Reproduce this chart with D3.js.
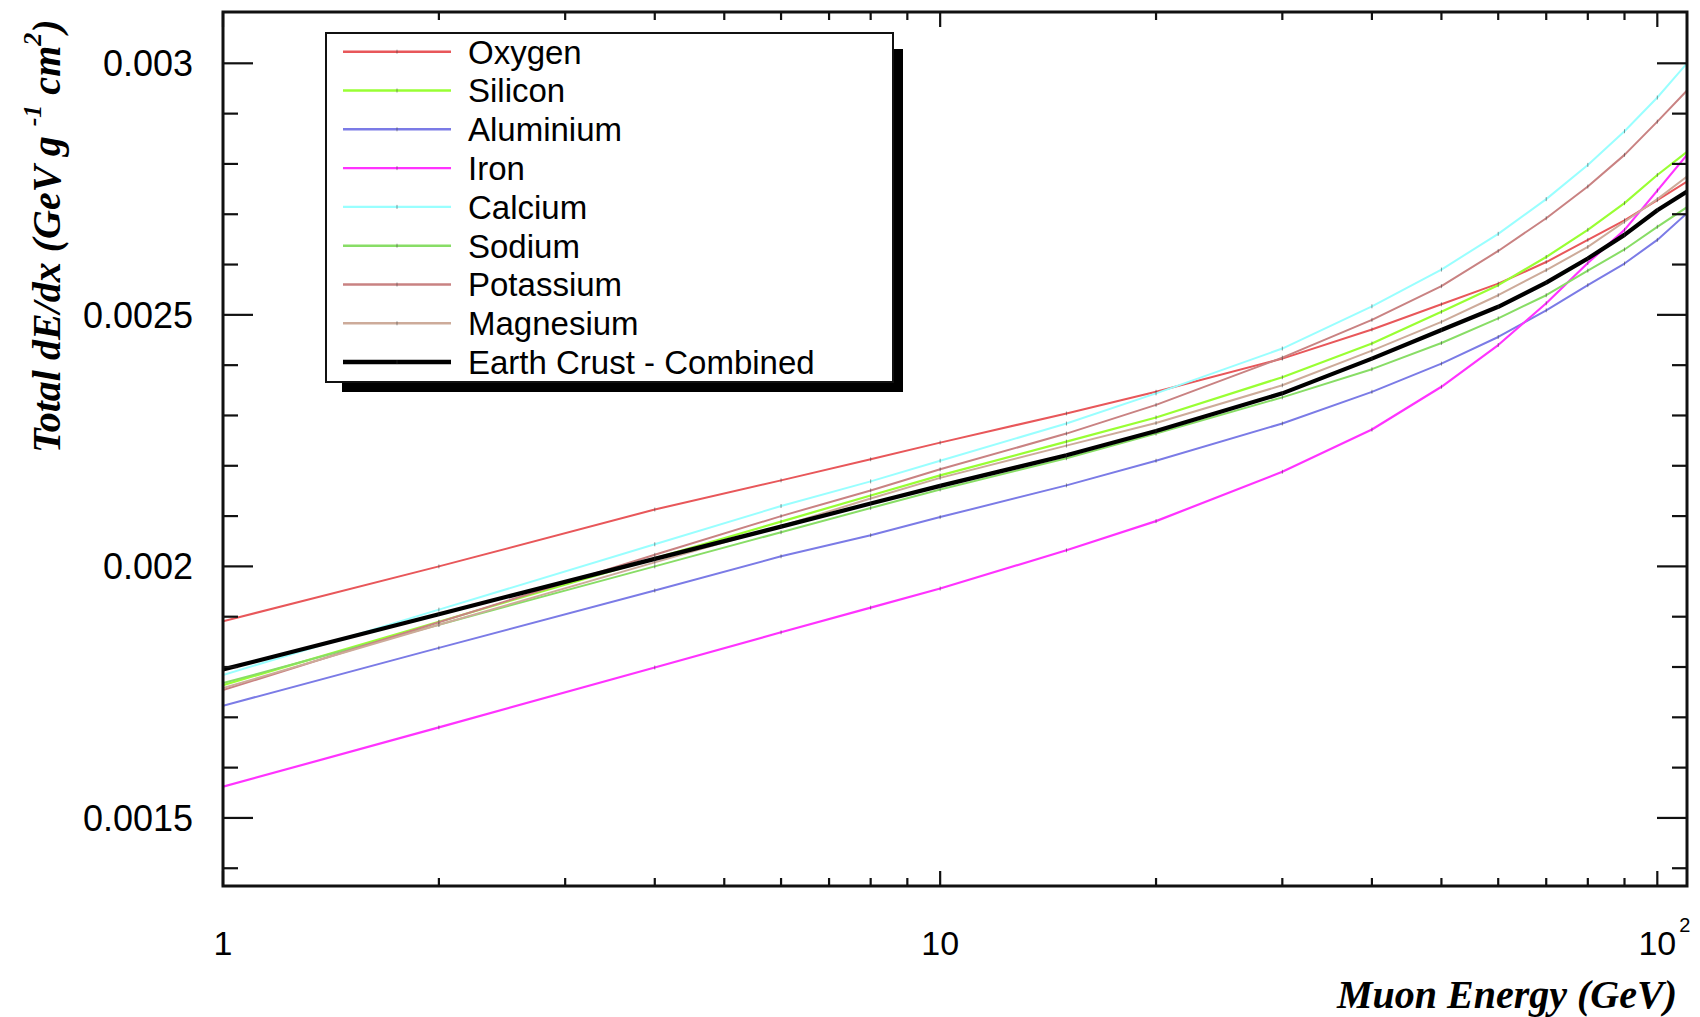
<!DOCTYPE html>
<html>
<head>
<meta charset="utf-8">
<script src="https://cdn.jsdelivr.net/npm/d3@7"></script>
<style>
  html, body { margin: 0; padding: 0; background: #fff; }
  svg { display: block; }
</style>
</head>
<body>
<svg id="chart" width="1700" height="1017"></svg>
<script>
// ---- data ----
const energies = [1, 2, 4, 6, 8, 10, 15, 20, 30, 40, 50, 60, 70, 80, 90, 100, 110];

const oxygen    = [0.001891, 0.002000, 0.002113, 0.002171, 0.002213, 0.002246, 0.002304, 0.002347, 0.002413, 0.002471, 0.002521, 0.002562, 0.002605, 0.002649, 0.002688, 0.002728, 0.002765];
const silicon   = [0.001764, 0.001890, 0.002016, 0.002089, 0.002141, 0.002181, 0.002248, 0.002296, 0.002376, 0.002443, 0.002506, 0.002559, 0.002615, 0.002669, 0.002722, 0.002778, 0.002824];
const aluminium = [0.001723, 0.001838, 0.001952, 0.002020, 0.002062, 0.002098, 0.002161, 0.002210, 0.002284, 0.002347, 0.002403, 0.002456, 0.002509, 0.002559, 0.002602, 0.002649, 0.002702];
const iron      = [0.001562, 0.001680, 0.001799, 0.001869, 0.001918, 0.001956, 0.002032, 0.002090, 0.002188, 0.002272, 0.002357, 0.002440, 0.002523, 0.002603, 0.002669, 0.002747, 0.002818];
const calcium   = [0.001784, 0.001914, 0.002044, 0.002120, 0.002169, 0.002210, 0.002284, 0.002344, 0.002433, 0.002517, 0.002590, 0.002661, 0.002730, 0.002798, 0.002865, 0.002932, 0.003000];
const sodium    = [0.001768, 0.001884, 0.002000, 0.002068, 0.002116, 0.002153, 0.002215, 0.002264, 0.002336, 0.002392, 0.002444, 0.002493, 0.002539, 0.002588, 0.002630, 0.002675, 0.002714];
const potassium = [0.001754, 0.001889, 0.002023, 0.002100, 0.002151, 0.002193, 0.002264, 0.002321, 0.002415, 0.002490, 0.002557, 0.002627, 0.002692, 0.002755, 0.002818, 0.002884, 0.002946];
const magnesium = [0.001758, 0.001884, 0.002008, 0.002080, 0.002135, 0.002176, 0.002240, 0.002285, 0.002360, 0.002429, 0.002486, 0.002539, 0.002589, 0.002635, 0.002685, 0.002730, 0.002775];
const combined  = [0.001795, 0.001905, 0.002015, 0.002079, 0.002125, 0.002160, 0.002221, 0.002269, 0.002344, 0.002413, 0.002470, 0.002516, 0.002564, 0.002612, 0.002659, 0.002708, 0.002745];

const seriesNames  = ["Oxygen", "Silicon", "Aluminium", "Iron", "Calcium", "Sodium", "Potassium", "Magnesium", "Earth Crust - Combined"];
const seriesValues = [oxygen, silicon, aluminium, iron, calcium, sodium, potassium, magnesium, combined];
const seriesColors = ["#e8575a", "#99ff33", "#7b7be6", "#ff33ff", "#99ffff", "#88dd66", "#c98282", "#cdab9a", "#000000"];
const seriesWidths = [2, 2.2, 2, 2.2, 2, 2, 2, 2, 4.2];

const yTickLabels = [0.0015, 0.002, 0.0025, 0.003];
const xTickLabels = [1, 10, 100];

// ---- layout ----
const L = 223, R = 1687, T = 12, B = 886;
const svg = d3.select("#chart");

const x = d3.scaleLog().domain([1, 110]).range([L, R]);
const y = d3.scaleLinear().domain([0.0013647, 0.003102]).range([B, T]);

const sans = "'Liberation Sans', Arial, Helvetica, sans-serif";
const serif = "'Liberation Serif', 'Times New Roman', Times, serif";

// clip
svg.append("defs").append("clipPath").attr("id", "plotclip")
  .append("rect").attr("x", L).attr("y", T).attr("width", R - L).attr("height", B - T);

// ---- curves ----
const line = d3.line().x(d => x(d[0])).y(d => y(d[1]));
const gCurves = svg.append("g").attr("clip-path", "url(#plotclip)");
seriesValues.forEach((vals, i) => {
  const pts = energies.map((e, k) => [e, vals[k]]);
  gCurves.append("path")
    .attr("d", line(pts))
    .attr("fill", "none")
    .attr("stroke", seriesColors[i])
    .attr("stroke-width", seriesWidths[i])
    .attr("stroke-linejoin", "round");
  gCurves.selectAll(null).data(pts).enter().append("line")
    .attr("x1", d => x(d[0])).attr("x2", d => x(d[0]))
    .attr("y1", d => y(d[1]) - 2).attr("y2", d => y(d[1]) + 2)
    .attr("stroke", "#333").attr("stroke-opacity", 0.5).attr("stroke-width", 1);
});

// ---- axes ticks ----
const gAx = svg.append("g").attr("stroke", "#111").attr("stroke-width", 2.2);
const yMinor = d3.range(14, 31).map(k => k * 0.0001);
yMinor.forEach(v => {
  const major = Math.abs(Math.round(v * 10000) % 5) === 0;
  const len = major ? 30 : 15;
  const yy = y(v);
  if (yy < T || yy > B) return;
  gAx.append("line").attr("x1", L).attr("x2", L + len).attr("y1", yy).attr("y2", yy);
  gAx.append("line").attr("x1", R).attr("x2", R - len).attr("y1", yy).attr("y2", yy);
});
const xTicks = [];
for (let dec = 1; dec <= 100; dec *= 10) for (let m = 1; m <= 9; m++) { const v = m * dec; if (v <= 110) xTicks.push(v); }
xTicks.forEach(v => {
  const major = xTickLabels.includes(v);
  const len = major ? 15 : 8;
  const xx = x(v);
  gAx.append("line").attr("x1", xx).attr("x2", xx).attr("y1", B).attr("y2", B - len);
  gAx.append("line").attr("x1", xx).attr("x2", xx).attr("y1", T).attr("y2", T + len);
});

// frame
svg.append("rect").attr("x", L).attr("y", T).attr("width", R - L).attr("height", B - T)
  .attr("fill", "none").attr("stroke", "#111").attr("stroke-width", 3);

// ---- tick labels ----
svg.append("g").selectAll("text").data(yTickLabels).enter().append("text")
  .attr("x", 193).attr("y", d => y(d)).attr("dy", "0.36em")
  .attr("text-anchor", "end").attr("font-family", sans).attr("font-size", 36)
  .attr("fill", "#000").text(d => String(d));

const gx = svg.append("g").attr("font-family", sans).attr("fill", "#000");
gx.append("text").attr("x", x(1)).attr("y", 955).attr("text-anchor", "middle").attr("font-size", 34).text("1");
gx.append("text").attr("x", x(10)).attr("y", 955).attr("text-anchor", "middle").attr("font-size", 34).text("10");
gx.append("text").attr("x", x(100)).attr("y", 955).attr("text-anchor", "middle").attr("font-size", 34).text("10");
gx.append("text").attr("x", x(100) + 22).attr("y", 932).attr("text-anchor", "start").attr("font-size", 20).text("2");

// ---- axis titles ----
svg.append("text")
  .attr("x", 1677).attr("y", 1008).attr("text-anchor", "end")
  .attr("font-family", serif).attr("font-weight", "bold").attr("font-style", "italic")
  .attr("font-size", 40).attr("fill", "#000")
  .text("Muon Energy (GeV)");

const yt = svg.append("text")
  .attr("transform", "translate(60,453) rotate(-90)")
  .attr("text-anchor", "start")
  .attr("font-family", serif).attr("font-weight", "bold").attr("font-style", "italic")
  .attr("font-size", 40).attr("fill", "#000");
yt.append("tspan").text("Total dE/dx (GeV g  ");
yt.append("tspan").attr("font-size", 26).attr("dy", -19).text("-1");
yt.append("tspan").attr("dy", 19).text(" cm");
yt.append("tspan").attr("font-size", 26).attr("dy", -19).text("2");
yt.append("tspan").attr("dy", 19).text(")");

// ---- legend ----
const lgX = 326, lgY = 33, lgW = 567, lgH = 349;
svg.append("rect").attr("x", 342).attr("y", 49).attr("width", 561).attr("height", 343).attr("fill", "#000");
svg.append("rect").attr("x", lgX).attr("y", lgY).attr("width", lgW).attr("height", lgH)
  .attr("fill", "#fff").attr("stroke", "#111").attr("stroke-width", 2);
const rowY0 = 51.7, rowStep = 38.8;
seriesNames.forEach((name, i) => {
  const yy = rowY0 + i * rowStep;
  svg.append("line").attr("x1", 343).attr("x2", 451).attr("y1", yy).attr("y2", yy)
    .attr("stroke", seriesColors[i]).attr("stroke-width", i === 8 ? 4.5 : 2.4);
  svg.append("line").attr("x1", 397).attr("x2", 397).attr("y1", yy - 2).attr("y2", yy + 2)
    .attr("stroke", "#333").attr("stroke-opacity", 0.5).attr("stroke-width", 1);
  svg.append("text").attr("x", 468).attr("y", yy).attr("dy", "0.36em")
    .attr("font-family", sans).attr("font-size", 33).attr("fill", "#000").text(name);
});
</script>
</body>
</html>
